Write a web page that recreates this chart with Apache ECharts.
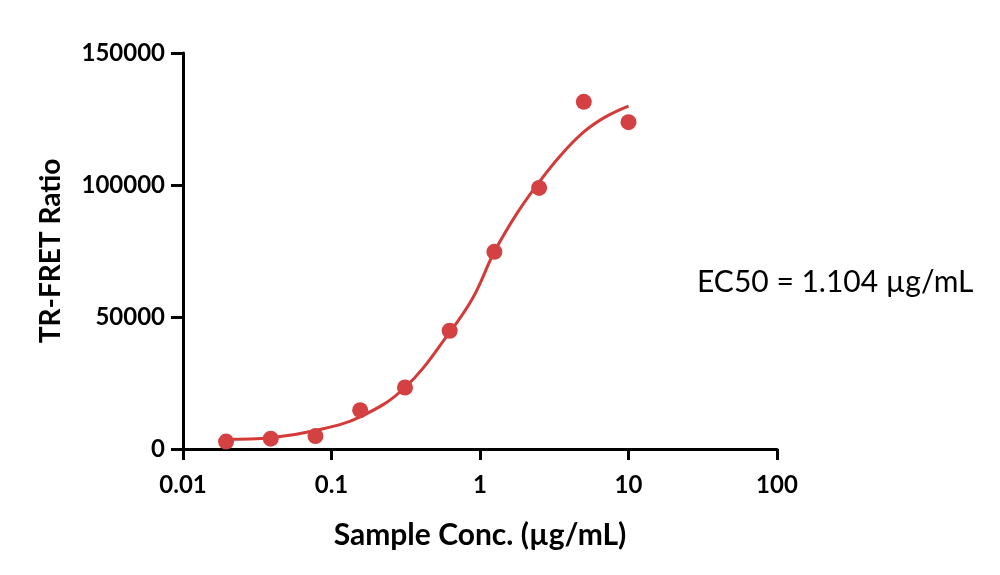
<!DOCTYPE html>
<html>
<head>
<meta charset="utf-8">
<title>TR-FRET dose response</title>
<script src="https://cdn.jsdelivr.net/npm/echarts@6/dist/echarts.min.js"></script>
<style>
  html, body { margin: 0; padding: 0; background: #fff; }
  #chart { width: 1000px; height: 575px; }
</style>
</head>
<body>
<div id="chart"></div>
<script>
// measured points (µg/mL vs TR-FRET ratio)
var conc = [0.0195, 0.039, 0.078, 0.156, 0.3125, 0.625, 1.25, 2.5, 5, 10];
var signal = [2800, 3900, 4900, 14700, 23300, 44800, 74700, 98900, 131500, 123800];

// fitted curve
var curveConc = [0.0195, 0.039, 0.078, 0.156, 0.3125, 0.625, 0.9, 1.25, 1.8, 2.5, 3.5, 5, 7, 10];
var curveSignal = [3700, 4300, 7000, 12200, 23300, 44200, 57500, 74700, 89800, 101100, 111300, 120100, 125800, 129900];

var yTicks = [0, 50000, 100000, 150000];

var font = 'Lato, "Open Sans", sans-serif';

var chart = echarts.init(document.getElementById('chart'));

function pairs(xs, ys) {
  var out = [];
  for (var i = 0; i < xs.length; i++) out.push([xs[i], ys[i]]);
  return out;
}

var option = {
  animation: false,
  grid: { left: 183, right: 223, top: 53, bottom: 126 },
  xAxis: {
    type: 'log',
    logBase: 10,
    min: 0.01,
    max: 100,
    name: 'Sample Conc. (µg/mL)',
    nameLocation: 'middle',
    nameGap: 71,
    nameTextStyle: { fontFamily: font, fontWeight: 'bold', fontSize: 30, color: '#000' },
    axisLine: { lineStyle: { color: '#000', width: 3 } },
    axisTick: { show: true, length: 11, lineStyle: { color: '#000', width: 3 } },
    minorTick: { show: false },
    splitLine: { show: false },
    axisLabel: {
      fontFamily: font, fontWeight: 'bold', fontSize: 24, color: '#000', margin: 24,
      formatter: function (v) { return String(+v.toPrecision(6)); }
    }
  },
  yAxis: {
    type: 'value',
    min: yTicks[0],
    max: yTicks[yTicks.length - 1],
    interval: 50000,
    name: 'TR-FRET Ratio',
    nameLocation: 'middle',
    nameGap: 118,
    nameTextStyle: { fontFamily: font, fontWeight: 'bold', fontSize: 28, color: '#000' },
    axisLine: { show: true, lineStyle: { color: '#000', width: 3 } },
    axisTick: { show: true, length: 12, lineStyle: { color: '#000', width: 3 } },
    splitLine: { show: false },
    axisLabel: {
      fontFamily: font, fontWeight: 'bold', fontSize: 24, color: '#000', margin: 18,
      formatter: function (v) { return String(v); }
    }
  },
  graphic: [{
    type: 'text',
    left: 697,
    top: 267,
    style: { text: 'EC50 = 1.104 µg/mL', font: '30px ' + font, fill: '#000' }
  }],
  series: [
    {
      type: 'line',
      data: pairs(curveConc, curveSignal),
      smooth: 0.4,
      showSymbol: false,
      lineStyle: { color: '#d33a38', width: 3 },
      z: 2
    },
    {
      type: 'scatter',
      data: pairs(conc, signal),
      symbol: 'circle',
      symbolSize: 16,
      itemStyle: { color: '#d44142', opacity: 1 },
      z: 3
    }
  ]
};

chart.setOption(option);
</script>
</body>
</html>
